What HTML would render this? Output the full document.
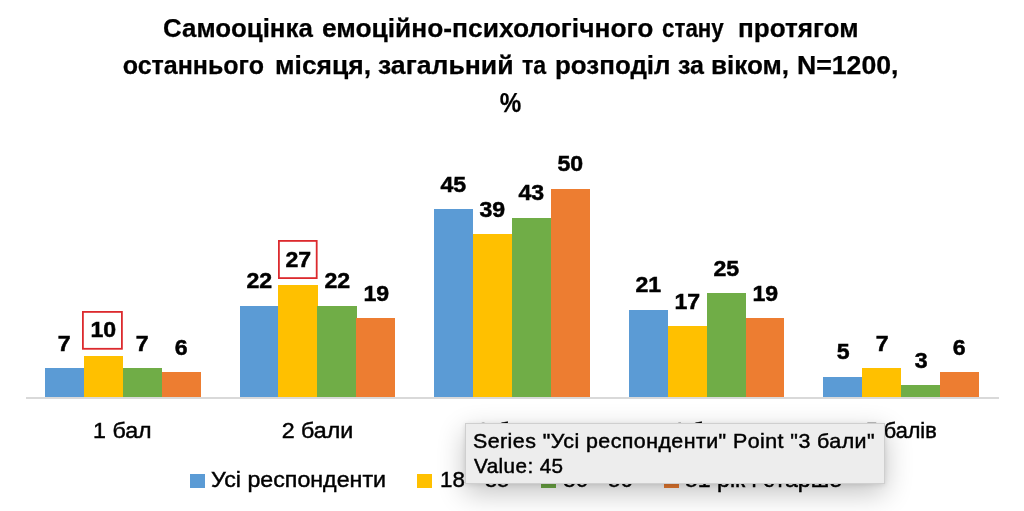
<!DOCTYPE html>
<html lang="uk"><head><meta charset="utf-8"><title>Самооцінка</title>
<style>
html,body{margin:0;padding:0;background:#fff}
body{width:1024px;height:511px;position:relative;overflow:hidden;font-family:"Liberation Sans",sans-serif;color:#000}
.t{position:absolute;left:0;width:1021px;text-align:center;font-weight:bold;font-size:25px;line-height:30px;white-space:nowrap}
.t span{display:inline-block;-webkit-text-stroke:.25px #000;transform-origin:50% 50%}
.w{position:absolute;display:block;font-weight:bold;font-size:25px;line-height:30px;white-space:nowrap;transform-origin:0 50%;-webkit-text-stroke:.25px #000}
.bar{position:absolute}
.dl{position:absolute;width:60px;text-align:center;font-weight:bold;font-size:22px;line-height:26px;white-space:nowrap}
.dl span{display:inline-block;-webkit-text-stroke:.5px #000;transform:scaleX(1.05)}
.axis{position:absolute;left:25.5px;top:397px;width:973px;height:1.5px;background:#d9d9d9}
.cat{position:absolute;top:417.5px;width:194.6px;text-align:center;font-size:21.7px;line-height:26px;white-space:nowrap}
.cat span{display:inline-block;-webkit-text-stroke:.45px #000;transform:scaleX(1.07)}
.lg{position:absolute;top:466.7px;font-size:22.6px;line-height:26px;white-space:nowrap}
.lg span{display:inline-block;-webkit-text-stroke:.45px #000;transform-origin:0 50%}
.sq{position:absolute;top:474.1px;width:14.6px;height:13.7px}
.box{position:absolute;overflow:visible}
.tip{position:absolute;left:465px;top:423px;width:420.3px;height:61px;box-sizing:border-box;background:#ededed;border:1px solid #cfcfcf;box-shadow:0 9px 28px rgba(0,0,0,.24),0 1px 5px rgba(0,0,0,.10);font-size:19.8px;letter-spacing:.4px;line-height:25.5px;white-space:nowrap}
.tip div{position:absolute;left:7px}
.tip span{display:inline-block;-webkit-text-stroke:.45px #000;transform-origin:0 50%}
</style></head><body>
<span class="w" id="w0" style="left:162.70px;top:13.4px;transform:scaleX(1.0347)">Самооцінка</span>
<span class="w" id="w1" style="left:321.94px;top:13.4px;transform:scaleX(1.0545)">емоційно-психологічного</span>
<span class="w" id="w2" style="left:661.89px;top:13.4px;transform:scaleX(0.8949)">стану</span>
<span class="w" id="w3" style="left:738.43px;top:13.4px;transform:scaleX(1.0443)">протягом</span>
<span class="w" id="w4" style="left:122.74px;top:50.4px;transform:scaleX(1.0000)">останнього</span>
<span class="w" id="w5" style="left:275.41px;top:50.4px;transform:scaleX(1.0568)">місяця,</span>
<span class="w" id="w6" style="left:377.94px;top:50.4px;transform:scaleX(1.0640)">загальний</span>
<span class="w" id="w7" style="left:522.00px;top:50.4px;transform:scaleX(0.9259)">та</span>
<span class="w" id="w8" style="left:555.45px;top:50.4px;transform:scaleX(1.0372)">розподіл</span>
<span class="w" id="w9" style="left:678.00px;top:50.4px;transform:scaleX(1.0008)">за</span>
<span class="w" id="w10" style="left:711.44px;top:50.4px;transform:scaleX(1.0417)">віком,</span>
<span class="w" id="w11" style="left:797.12px;top:50.4px;transform:scaleX(1.0654)">N=1200,</span>
<div class="t" style="top:87.6px;font-size:28px"><span id="t3" style="transform:scaleX(0.8632)">%</span></div>
<div class="bar" style="left:44.96px;top:368.24px;width:39.22px;height:29.26px;background:#5B9BD5"></div>
<div class="dl" style="left:34.42px;top:330.84px"><span>7</span></div>
<div class="bar" style="left:83.88px;top:355.70px;width:39.22px;height:41.80px;background:#FFC000"></div>
<div class="dl" style="left:73.34px;top:317.40px"><span>10</span></div>
<div class="bar" style="left:122.80px;top:368.24px;width:39.22px;height:29.26px;background:#70AD47"></div>
<div class="dl" style="left:112.26px;top:330.84px"><span>7</span></div>
<div class="bar" style="left:161.72px;top:372.42px;width:38.92px;height:25.08px;background:#ED7D31"></div>
<div class="dl" style="left:151.18px;top:335.02px"><span>6</span></div>
<div class="cat" style="left:25.50px"><span style="transform:scaleX(1.07)">1 бал</span></div>
<div class="bar" style="left:239.56px;top:305.54px;width:39.22px;height:91.96px;background:#5B9BD5"></div>
<div class="dl" style="left:229.02px;top:268.14px"><span>22</span></div>
<div class="bar" style="left:278.48px;top:284.64px;width:39.22px;height:112.86px;background:#FFC000"></div>
<div class="dl" style="left:267.94px;top:247.24px"><span>27</span></div>
<div class="bar" style="left:317.40px;top:305.54px;width:39.22px;height:91.96px;background:#70AD47"></div>
<div class="dl" style="left:306.86px;top:268.14px"><span>22</span></div>
<div class="bar" style="left:356.32px;top:318.08px;width:38.92px;height:79.42px;background:#ED7D31"></div>
<div class="dl" style="left:345.78px;top:280.68px"><span>19</span></div>
<div class="cat" style="left:220.10px"><span style="transform:scaleX(1.07)">2 бали</span></div>
<div class="bar" style="left:434.16px;top:209.40px;width:39.22px;height:188.10px;background:#5B9BD5"></div>
<div class="dl" style="left:423.62px;top:172.00px"><span>45</span></div>
<div class="bar" style="left:473.08px;top:234.48px;width:39.22px;height:163.02px;background:#FFC000"></div>
<div class="dl" style="left:462.54px;top:197.08px"><span>39</span></div>
<div class="bar" style="left:512.00px;top:217.76px;width:39.22px;height:179.74px;background:#70AD47"></div>
<div class="dl" style="left:501.46px;top:180.36px"><span>43</span></div>
<div class="bar" style="left:550.92px;top:188.50px;width:38.92px;height:209.00px;background:#ED7D31"></div>
<div class="dl" style="left:540.38px;top:151.10px"><span>50</span></div>
<div class="cat" style="left:414.70px"><span style="transform:scaleX(1.07)">3 бали</span></div>
<div class="bar" style="left:628.76px;top:309.72px;width:39.22px;height:87.78px;background:#5B9BD5"></div>
<div class="dl" style="left:618.22px;top:272.32px"><span>21</span></div>
<div class="bar" style="left:667.68px;top:326.44px;width:39.22px;height:71.06px;background:#FFC000"></div>
<div class="dl" style="left:657.14px;top:289.04px"><span>17</span></div>
<div class="bar" style="left:706.60px;top:293.00px;width:39.22px;height:104.50px;background:#70AD47"></div>
<div class="dl" style="left:696.06px;top:255.60px"><span>25</span></div>
<div class="bar" style="left:745.52px;top:318.08px;width:38.92px;height:79.42px;background:#ED7D31"></div>
<div class="dl" style="left:734.98px;top:280.68px"><span>19</span></div>
<div class="cat" style="left:609.30px"><span style="transform:scaleX(1.07)">4 бали</span></div>
<div class="bar" style="left:823.36px;top:376.60px;width:39.22px;height:20.90px;background:#5B9BD5"></div>
<div class="dl" style="left:812.82px;top:339.20px"><span>5</span></div>
<div class="bar" style="left:862.28px;top:368.24px;width:39.22px;height:29.26px;background:#FFC000"></div>
<div class="dl" style="left:851.74px;top:330.84px"><span>7</span></div>
<div class="bar" style="left:901.20px;top:384.96px;width:39.22px;height:12.54px;background:#70AD47"></div>
<div class="dl" style="left:890.66px;top:347.56px"><span>3</span></div>
<div class="bar" style="left:940.12px;top:372.42px;width:38.92px;height:25.08px;background:#ED7D31"></div>
<div class="dl" style="left:929.58px;top:335.02px"><span>6</span></div>
<div class="cat" style="left:803.90px"><span style="transform:scaleX(1.0)">5 балів</span></div>
<div class="axis"></div>
<svg class="box" style="left:82.2px;top:311px" width="42" height="40"><rect x="0.9" y="0.9" width="39" height="36.9" fill="none" stroke="#dc2a2e" stroke-width="1.8"/></svg>
<svg class="box" style="left:278px;top:240px" width="42" height="40"><rect x="0.9" y="0.9" width="37.8" height="37.2" fill="none" stroke="#dc2a2e" stroke-width="1.8"/></svg>
<div class="sq" style="left:190px;background:#5B9BD5"></div>
<div class="lg" style="left:210.5px"><span id="l1" style="transform:scaleX(1.0273)">Усі респонденти</span></div>
<div class="sq" style="left:417px;background:#FFC000"></div>
<div class="lg" style="left:440px"><span id="l2" style="transform:scaleX(0.988)">18 - 35</span></div>
<div class="sq" style="left:541.2px;background:#70AD47"></div>
<div class="lg" style="left:562.5px"><span id="l3" style="transform:scaleX(0.9951)">36 - 50</span></div>
<div class="sq" style="left:664.2px;background:#ED7D31"></div>
<div class="lg" style="left:685px"><span id="l4" style="transform:scaleX(1.0217)">51 рік і старше</span></div>
<div class="tip"><div style="top:5px"><span id="p1" style="transform:scaleX(1.0823)">Series "Усі респонденти" Point "3 бали"</span></div><div style="top:30.2px;left:8px"><span id="p2" style="transform:scaleX(1.0441)">Value: 45</span></div></div>
</body></html>
